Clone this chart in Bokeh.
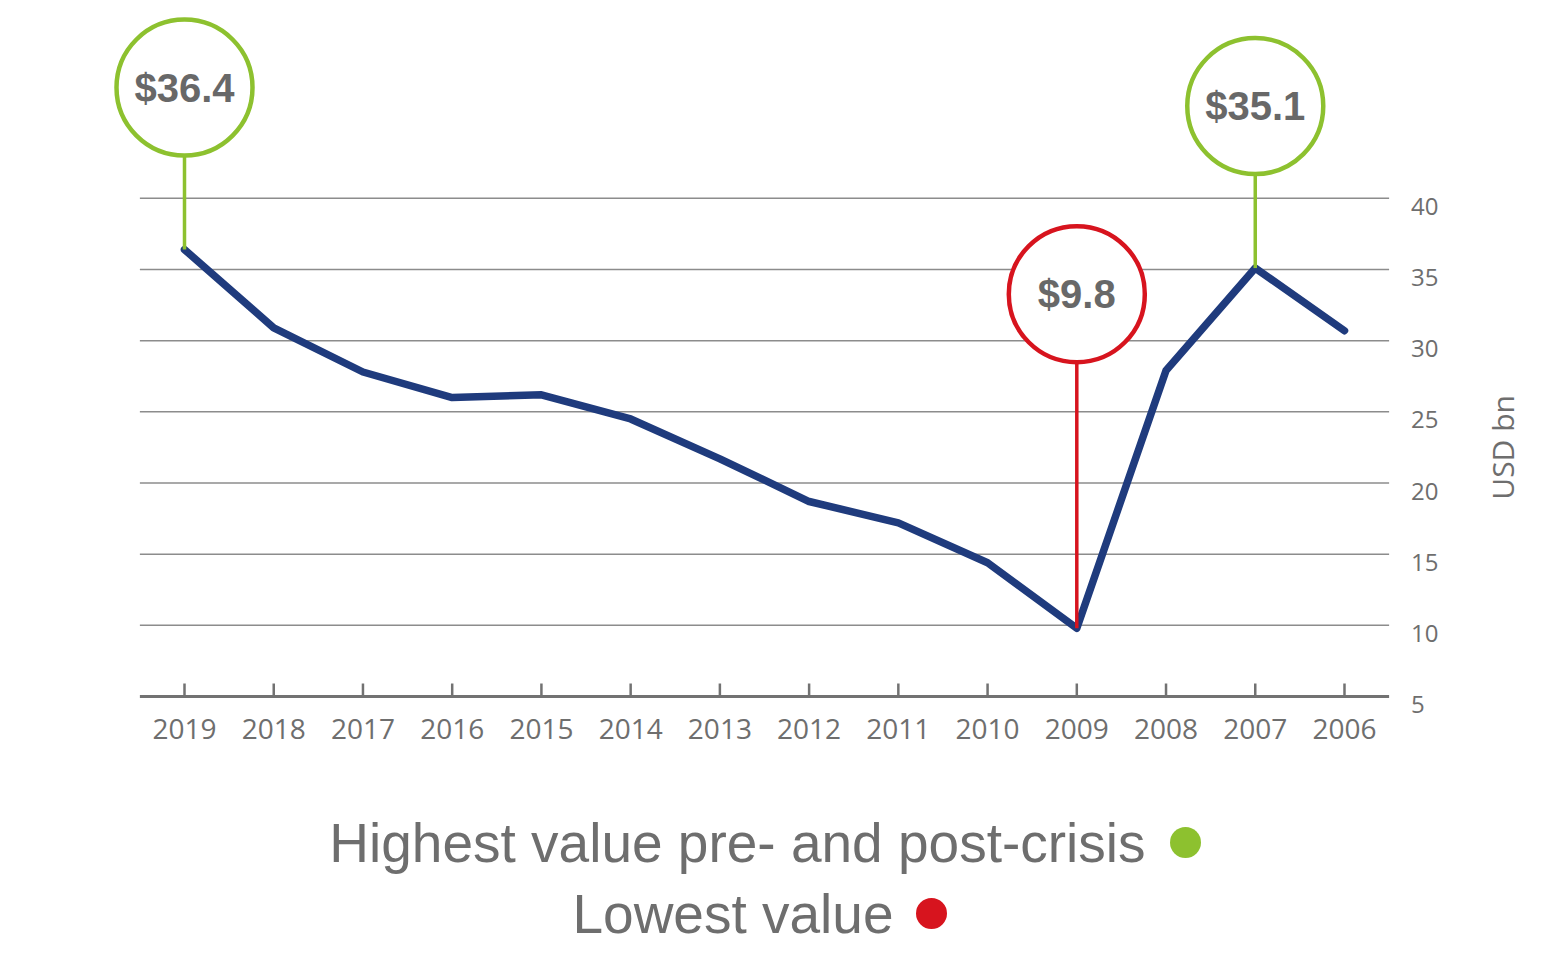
import math
from bokeh.plotting import figure
from bokeh.models import Range1d, ColumnDataSource
from bokeh.core.properties import value
from bokeh.embed import file_html
from bokeh.resources import INLINE

# ---- data ----
years = [2019, 2018, 2017, 2016, 2015, 2014, 2013, 2012, 2011, 2010, 2009, 2008, 2007, 2006]
values = [36.4, 30.9, 27.8, 26.0, 26.2, 24.5, 21.7, 18.7, 17.2, 14.4, 9.8, 27.9, 35.1, 30.7]
year_labels = [str(y) for y in years]
y_ticks = [5, 10, 15, 20, 25, 30, 35, 40]
y_tick_labels = ["5", "10", "15", "20", "25", "30", "35", "40"]
y_axis_label = "USD bn"
callout_years = [2019, 2009, 2007]
callout_values = [36.4, 9.8, 35.1]
callout_labels = ["$36.4", "$9.8", "$35.1"]
callout_kinds = ["high", "low", "high"]
legend_labels = ["Highest value pre- and post-crisis", "Lowest value"]
legend_colors_key = ["high", "low"]

# ---- style ----
NAVY = "#1f3b7d"
GREEN = "#8dc12f"
RED = "#d7141e"
GRAY_TXT = "#6e6e6e"
GRID = "#8c8c8c"
AXIS = "#727272"
callout_offset_px = {"high": 162, "low": 334}
kind_color = {"high": GREEN, "low": RED}
RADIUS_PX = 68

W, H = 1555, 970
PX_YEAR = 89.23      # px per year
PX_UNIT = 14.233     # px per USD bn
ORIGIN_X_PX = 184    # page x of first year
ORIGIN_Y_PX = 696    # page y of the axis baseline


def px2x(px):
    return max(years) + (ORIGIN_X_PX - px) / PX_YEAR


def py2y(py):
    return min(y_ticks) + (ORIGIN_Y_PX - py) / PX_UNIT


p = figure(width=W, height=H, output_backend="svg", toolbar_location=None,
           x_range=Range1d(px2x(0), px2x(W)), y_range=Range1d(py2y(H), py2y(0)),
           min_border=0, min_border_left=0, min_border_right=0,
           min_border_top=0, min_border_bottom=0,
           x_axis_location=None, y_axis_location=None)
p.outline_line_color = None
p.xgrid.grid_line_color = None
p.ygrid.grid_line_color = None

y_base = min(y_ticks)
x_left = max(years) + 0.5
x_right = min(years) - 0.5

# grid lines
n_grid = len(y_ticks) - 1
p.segment(x0=[x_left] * n_grid, y0=y_ticks[1:], x1=[x_right] * n_grid, y1=y_ticks[1:],
          line_color=GRID, line_width=1.5)
# x axis line and inward ticks
p.segment(x0=[x_left], y0=[y_base], x1=[x_right], y1=[y_base], line_color=AXIS, line_width=3)
p.segment(x0=years, y0=[y_base] * len(years), x1=years,
          y1=[y_base + 13 / PX_UNIT] * len(years), line_color=AXIS, line_width=2.5)
# x tick labels
p.text(x=years, y=[y_base] * len(years), text=year_labels, text_align="center",
       text_baseline="middle", y_offset=32, text_font=value("Open Sans"),
       text_font_size="28px", text_color=GRAY_TXT)
# y tick labels on the right
p.text(x=[x_right - 22 / PX_YEAR] * len(y_ticks), y=y_ticks, text=y_tick_labels,
       text_align="left", text_baseline="middle", y_offset=8,
       text_font=value("Open Sans"), text_font_size="24px", text_color=GRAY_TXT)
# y axis title (rotated)
p.text(x=[x_right - 113 / PX_YEAR], y=[(y_ticks[0] + y_ticks[-1]) / 2], text=[y_axis_label],
       angle=math.pi / 2, text_align="center", text_baseline="middle",
       text_font=value("Open Sans"), text_font_size="30px", text_color=GRAY_TXT)

# main line
p.line(years, values, line_color=NAVY, line_width=7.5, line_cap="round", line_join="round")

# callouts
cx, cy, sy0, sy1, cols = [], [], [], [], []
for yr, v, k in zip(callout_years, callout_values, callout_kinds):
    c = v + callout_offset_px[k] / PX_UNIT
    cx.append(yr)
    cy.append(c)
    sy0.append(v)
    sy1.append(c - RADIUS_PX / PX_UNIT)
    cols.append(kind_color[k])
src = ColumnDataSource(dict(x=cx, y=cy, y0=sy0, y1=sy1, c=cols, t=callout_labels))
p.segment(x0="x", y0="y0", x1="x", y1="y1", line_color="c", line_width=3.5, source=src)
p.scatter(x="x", y="y", size=2 * RADIUS_PX, fill_color="white", line_color="c",
          line_width=4.5, source=src)
p.text(x="x", y="y", text="t", text_align="center", text_baseline="middle",
       text_font=value("Liberation Sans"), text_font_style="bold",
       text_font_size="40px", text_color="#686868", source=src)

# legend (below the chart)
leg_dot_px = [1185, 931]
leg_text_px = [1145, 893]
leg_row_py = [842, 913]
lg_y = [py2y(v) for v in leg_row_py]
p.scatter([px2x(v) for v in leg_dot_px], lg_y, size=31,
          fill_color=[kind_color[k] for k in legend_colors_key], line_color=None)
p.text([px2x(v) for v in leg_text_px], lg_y, text=legend_labels, text_align="right",
       text_baseline="middle", text_font=value("Liberation Sans"),
       text_font_size="55px", text_color=GRAY_TXT)

open("out.html", "w").write(file_html(p, INLINE))
